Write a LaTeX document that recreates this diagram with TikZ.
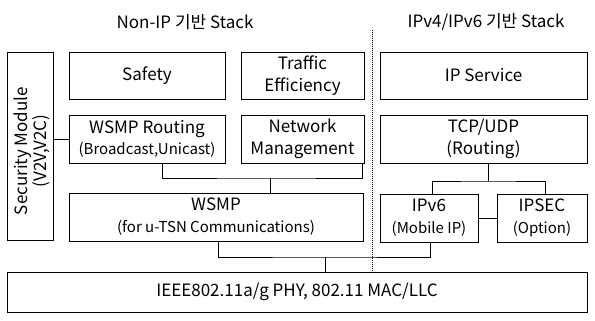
\documentclass[tikz,border=0pt]{standalone}
\usepackage{fontspec}
\setmainfont{Noto Sans CJK KR}
\usetikzlibrary{calc}

\begin{document}
\begin{tikzpicture}[
    x = 1pt, y = -1pt,
    layer/.style = {shape = rectangle, draw = black, line width = 0.8pt,
      align = center, inner sep = 0pt,
      font = \fontsize{17}{22}\selectfont},
    wire/.style = {line width = 0.8pt},
  ]
        \useasboundingbox (0, 0) rectangle (595, 321);

        % ------------------------------------------------------------------------
        % Titles
        \node[font = \fontsize{17}{20}\selectfont] at (185, 22) (tnonip) {Non-IP 기반 Stack};
        \node[font = \fontsize{17}{20}\selectfont] at (486, 22) (tip) {IPv4/IPv6 기반 Stack};

        % ------------------------------------------------------------------------
        % Non-IP side
        \node[layer, minimum width = 46pt, minimum height = 188pt] at ( 30, 146) (sec) {};
        \node[rotate = 90, align = center, font = \fontsize{17}{17.5}\selectfont]
          at ([xshift = 2pt, yshift = -5pt]sec.center) (sectext) {Security Module\\(V2V,V2C)};

        \node[layer, minimum width = 156pt, minimum height = 47pt] at (147, 75.5) (safety) {Safety};
        \node[layer, minimum width = 123pt, minimum height = 47pt] at (302.5, 75.5) (traffic) {Traffic\\Efficiency};

        \node[layer, minimum width = 156pt, minimum height = 48pt] at (147, 139) (wsmpr)
          {WSMP Routing\\[-1pt]{\fontsize{15}{18}\selectfont (Broadcast,Unicast)}};
        \node[layer, minimum width = 123pt, minimum height = 48pt] at (302.5, 139) (netm) {Network\\Management};

        \node[layer, minimum width = 294pt, minimum height = 48pt] at (216, 217) (wsmp)
          {WSMP\\{\fontsize{15}{18}\selectfont (for u-TSN Communications)}};

        % ------------------------------------------------------------------------
        % IP side
        \node[layer, minimum width = 207pt, minimum height = 47pt] at (483.5, 75.5) (ipserv) {IP Service};
        \node[layer, minimum width = 207pt, minimum height = 48pt] at (483.5, 139) (tcpudp) {TCP/UDP\\(Routing)};

        \node[layer, minimum width = 98pt, minimum height = 48pt] at (429, 218) (ipv6)
          {IPv6\\{\fontsize{15}{18}\selectfont (Mobile IP)}};
        \node[layer, minimum width = 90pt, minimum height = 48pt] at (542, 218) (ipsec)
          {IPSEC\\{\fontsize{15}{18}\selectfont (Option)}};

        % ------------------------------------------------------------------------
        % Bottom
        \node[layer, minimum width = 580pt, minimum height = 40pt] at (297, 292) (phy)
          {IEEE802.11a/g PHY, 802.11 MAC/LLC};

        % ------------------------------------------------------------------------
        % Connections
        \coordinate (jn1) at (270, 178);
        \coordinate (jn2) at (488, 181);
        \coordinate (jn3) at (325, 257);
        \coordinate (dtop) at (372, 30);

        \draw[wire]
          (sec.east |- wsmpr.west) -- (wsmpr.west)
          ([xshift = 15pt]wsmpr.south) |- (jn1) -| ([xshift = -2pt]netm.south east)
          (jn1) -- (jn1 |- wsmp.north)
          ([xshift = 4.5pt]tcpudp.south) -- (jn2)
          ([xshift = 3pt]ipv6.north) |- (jn2) -| ([xshift = 3pt]ipsec.north)
          (ipv6.east) -- (ipsec.west)
          ([xshift = 2pt]wsmp.south) |- (jn3) -| ([xshift = 1pt]ipv6.south)
          (jn3) -- (jn3 |- phy.north)
        ;
        \draw[line width = 1pt, densely dotted]
          (dtop) -- (dtop |- phy.north)
        ;
      \end{tikzpicture}
\end{document}
